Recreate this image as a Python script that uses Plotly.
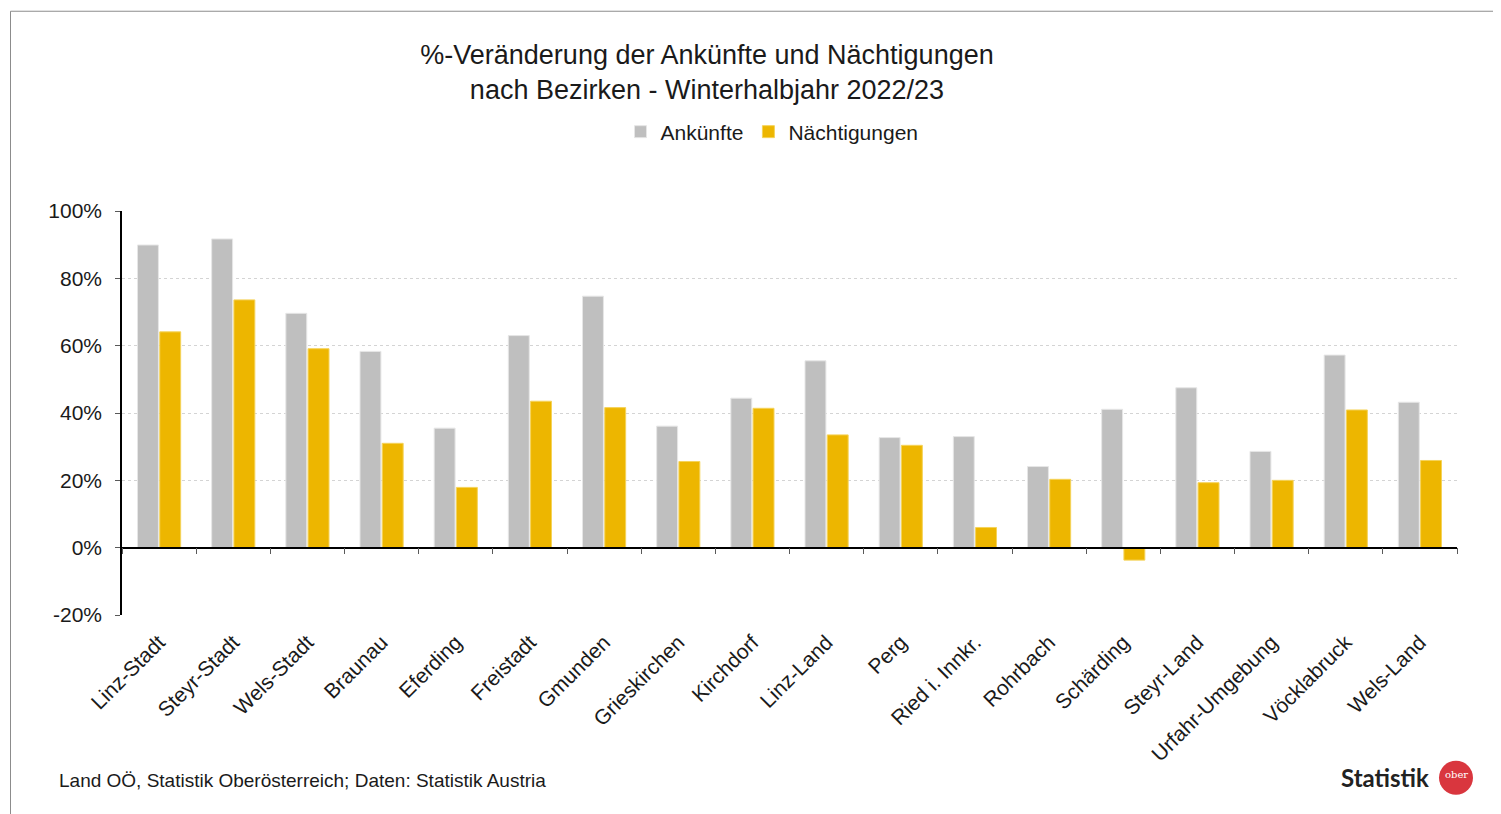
import plotly.graph_objects as go

categories = ["Linz-Stadt", "Steyr-Stadt", "Wels-Stadt", "Braunau", "Eferding", "Freistadt",
              "Gmunden", "Grieskirchen", "Kirchdorf", "Linz-Land", "Perg", "Ried i. Innkr.",
              "Rohrbach", "Schärding", "Steyr-Land", "Urfahr-Umgebung", "Vöcklabruck", "Wels-Land"]
ankuenfte = [89.9, 91.7, 69.6, 58.3, 35.5, 63.0, 74.7, 36.1, 44.4, 55.5, 32.7, 33.0, 24.1, 41.1, 47.5, 28.6, 57.2, 43.2]
naechtigungen = [64.1, 73.6, 59.1, 31.0, 17.9, 43.5, 41.6, 25.6, 41.4, 33.5, 30.4, 6.0, 20.3, -3.7, 19.3, 20.0, 40.9, 25.9]
y_ticks = [-20, 0, 20, 40, 60, 80, 100]
y_ticklabels = ["-20%", "0%", "20%", "40%", "60%", "80%", "100%"]

OFF = 8  # page body margin
W, H = 1501 - OFF, 814 - OFF
# plot area in screen pixels
L, R, T, B = 122, 1457, 210.5, 615
FONT = "Liberation Sans"
TXT = "#1a1a1a"

def px(x):
    return (x - L) / (R - L)

def py(y):
    return (B - y) / (B - T)

fig = go.Figure()
fig.add_trace(go.Bar(name="Ankünfte", x=categories, y=ankuenfte,
                     marker=dict(color="#BFBFBF", line=dict(color="#E6E6E6", width=1))))
fig.add_trace(go.Bar(name="Nächtigungen", x=categories, y=naechtigungen,
                     marker=dict(color="#EDB600", line=dict(color="#F5D35A", width=1))))
# invisible helper trace for the zero-line category axis
fig.add_trace(go.Scatter(x=categories, y=[0] * len(categories), xaxis="x2", mode="markers",
                         marker=dict(opacity=0), showlegend=False, hoverinfo="skip"))

fig.update_layout(
    width=W, height=H,
    margin=dict(l=L - OFF, r=W - (R - OFF), t=T - OFF, b=H - (B - OFF), pad=0),
    paper_bgcolor="white", plot_bgcolor="white",
    font=dict(family=FONT, color=TXT, size=19),
    barmode="group", bargap=0.4, bargroupgap=0.06,
    title=dict(text="%-Veränderung der Ankünfte und Nächtigungen<br>nach Bezirken - Winterhalbjahr 2022/23",
               xref="container", yref="container", x=(707 - OFF) / W, xanchor="center",
               y=1 - (63.5 - OFF) / H, yanchor="middle", font=dict(size=27, color=TXT, family=FONT)),
    legend=dict(orientation="h", xref="container", yref="container", x=(772 - OFF) / W, xanchor="center",
                y=1 - (132 - OFF) / H, yanchor="middle", font=dict(size=21, color=TXT), itemclick=False,
                traceorder="normal"),
    xaxis=dict(type="category", categoryorder="array", categoryarray=categories,
               showline=False, ticks="", showgrid=False, tickangle=-45,
               tickfont=dict(size=21, color=TXT), range=[-0.5, len(categories) - 0.5],
               ticklabelstandoff=10),
    xaxis2=dict(type="category", categoryorder="array", categoryarray=categories,
                overlaying="x", anchor="free", position=py(547.5), side="bottom",
                matches="x", showline=True, linecolor="black", linewidth=1.5,
                ticks="outside", tickson="boundaries", ticklen=6, tickcolor="#595959",
                showticklabels=False, showgrid=False),
    yaxis=dict(range=[-20, 100], tickvals=y_ticks, ticktext=y_ticklabels,
               showline=True, linecolor="black", linewidth=1.5, ticks="outside", ticklen=5,
               tickcolor="#595959", showgrid=True, gridcolor="#D4D4D4", griddash="dot",
               gridwidth=1, zeroline=False, tickfont=dict(size=21, color=TXT),
               ticklabelstandoff=9),
    shapes=[
        dict(type="rect", xref="paper", yref="paper", x0=px(10.5), y0=py(830), x1=px(1520), y1=py(10.5),
             line=dict(color="#8C8C8C", width=1), fillcolor="rgba(0,0,0,0)", layer="below"),
        dict(type="circle", xref="paper", yref="paper", x0=px(1439), x1=px(1473), y0=py(795), y1=py(761),
             line=dict(color="#D9363E", width=0), fillcolor="#D9363E"),
    ],
    annotations=[
        dict(text="Land OÖ, Statistik Oberösterreich; Daten: Statistik Austria", xref="paper", yref="paper",
             x=px(57), y=py(781), xanchor="left", yanchor="middle", showarrow=False,
             font=dict(size=19, color=TXT)),
        dict(text="<b>Statistik</b>", xref="paper", yref="paper", x=px(1431), y=py(778),
             xanchor="right", yanchor="middle", showarrow=False,
             font=dict(size=24, color="#222222", family="Lato")),
        dict(text="ober", xref="paper", yref="paper", x=px(1456), y=py(775),
             xanchor="center", yanchor="middle", showarrow=False,
             font=dict(size=10, color="white", family="DejaVu Serif")),
    ],
)

fig.write_html("out.html")
